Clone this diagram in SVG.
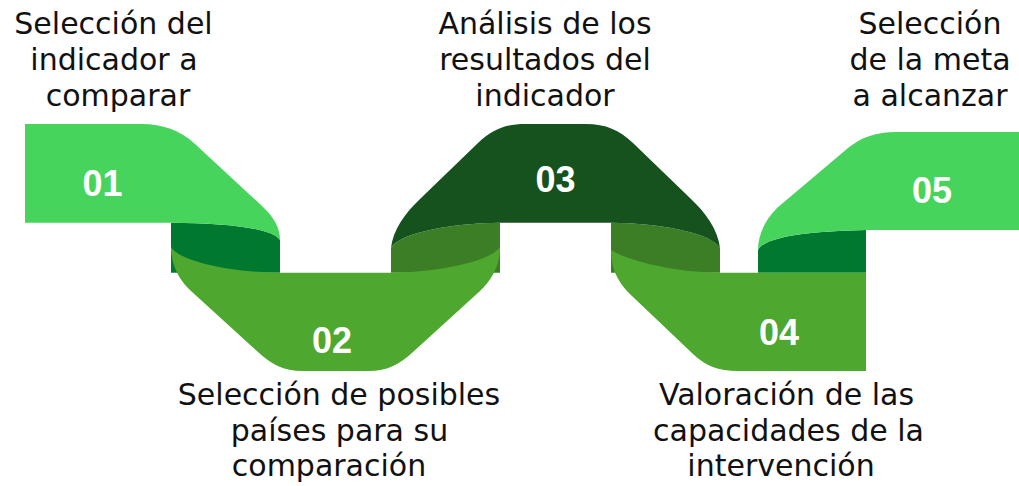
<svg xmlns="http://www.w3.org/2000/svg" width="1019" height="486" viewBox="0 0 1019 486">
<style>
.lbl{font-family:"DejaVu Sans","Liberation Sans",sans-serif;font-size:30px;fill:#111;text-anchor:middle}
.num{font-family:"Liberation Sans",Arial,sans-serif;font-size:36px;font-weight:bold;fill:#fff;text-anchor:middle}
.light{fill:#47D45D}
.mid{fill:#4EA72E}
.dark{fill:#16521E}
.foldA{fill:#00782F}
.foldB{fill:#3B7E25}
</style>
<rect width="1019" height="486" fill="#fff"/>
<g id="folds">
<path class="foldA" d="M171,222.7 C225,223 272,228 280,240 V272.7 H171 Z"/>
<path class="foldB" d="M391,248 C399,233 451,223 500,222.7 V272.7 H391 Z"/>
<path class="foldB" d="M611,222.7 C660,223 712,233 720,248 V272.7 H611 Z"/>
<path class="foldA" d="M758,250 C765,235 820,231 866,230 V272.7 H758 Z"/>
</g>
<g id="node-01">
<path class="light" d="M25,124 H142 C162,124 180,130 195,144 L262,206 C274,217 280,228 280,240 C272,228 225,223 171,222.7 H25 Z"/>
<text class="num" x="102.5" y="196">01</text>
<text class="lbl" x="113.5" y="34">Selección del</text>
<text class="lbl" x="114" y="70">indicador a</text>
<text class="lbl" x="118" y="106">comparar</text>
</g>
<g id="node-02">
<path class="mid" d="M171,247 C180,262 235,272.7 280,272.7 H390 C435,272.7 490,262 500,247 C500,265 492,280 480,291 L413,352 C400,364 388,371 368,371 H303 C283,371 271,364 258,352 L191,291 C179,280 171,265 171,247 Z"/>
<text class="num" x="332" y="353">02</text>
<text class="lbl" x="339" y="405">Selección de posibles</text>
<text class="lbl" x="339.5" y="441">países para su</text>
<text class="lbl" x="329" y="476">comparación</text>
</g>
<g id="node-03">
<path class="dark" d="M391,248 C393,230 405,213 420,199 L478,143 C492,130 505,124 525,124 H586 C606,124 619,130 633,143 L691,199 C706,213 718,230 720,248 C712,233 660,223 611,222.7 H500 C451,223 399,233 391,248 Z"/>
<text class="num" x="555.5" y="192">03</text>
<text class="lbl" x="545" y="34">Análisis de los</text>
<text class="lbl" x="545" y="70">resultados del</text>
<text class="lbl" x="545" y="106">indicador</text>
</g>
<g id="node-04">
<path class="mid" d="M611,250 C630,262 680,272.7 720,272.7 H866 V371 H738 C718,371 706,366 693,354 L632,296 C619,284 611,270 611,250 Z"/>
<text class="num" x="779" y="345">04</text>
<text class="lbl" x="786.5" y="405">Valoración de las</text>
<text class="lbl" x="788.5" y="441">capacidades de la</text>
<text class="lbl" x="781" y="476">intervención</text>
</g>
<g id="node-05">
<path class="light" d="M758,250 C758,235 765,220 777,208 L848,148 C862,137 876,132 896,132 H1019 V230 H866 C820,231 765,235 758,250 Z"/>
<text class="num" x="932" y="203">05</text>
<text class="lbl" x="930" y="34">Selección</text>
<text class="lbl" x="930" y="70">de la meta</text>
<text class="lbl" x="930" y="106">a alcanzar</text>
</g>
</svg>
